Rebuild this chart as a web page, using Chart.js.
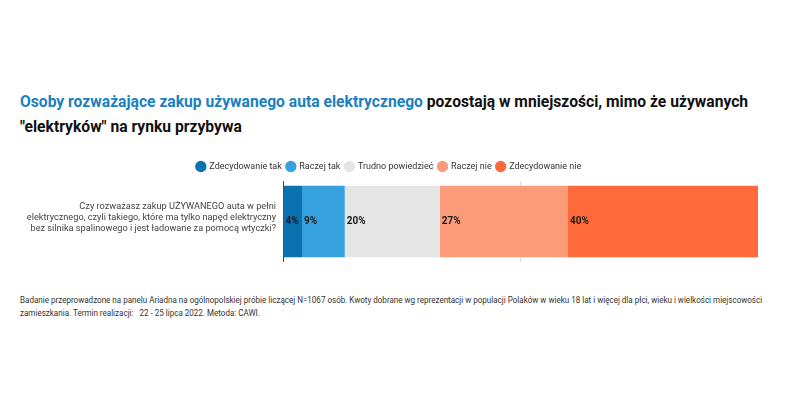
<!DOCTYPE html>
<html lang="pl">
<head>
<meta charset="utf-8">
<script src="https://cdn.jsdelivr.net/npm/chart.js@4.4.1/dist/chart.umd.min.js"></script>
<style>
  html, body { margin: 0; padding: 0; background: #fff; }
  body { width: 800px; height: 400px; position: relative; overflow: hidden; font-family: Roboto, "Liberation Sans", sans-serif; }
  .title { position: absolute; left: 20px; top: 89px; width: 880px; font-size: 17px; font-weight: 700; line-height: 25px; color: #111;
           transform: scaleX(0.92); transform-origin: left top; }
  .title .hl { color: #1b7fc0; }
  .chart-box { position: absolute; left: 0; top: 157px; width: 800px; height: 105px; }
  .note { position: absolute; left: 20px; top: 293px; width: 940px; font-size: 9.5px; line-height: 13px; color: #333;
          transform: scaleX(0.847); transform-origin: left top; }
</style>
</head>
<body>
<div class="title"><span class="hl">Osoby rozważające zakup używanego auta elektrycznego</span> pozostają w mniejszości, mimo że używanych<br>"elektryków" na rynku przybywa</div>
<div class="chart-box"><canvas id="c"></canvas></div>
<div class="note">Badanie przeprowadzone na panelu Ariadna na ogólnopolskiej próbie liczącej N=1067 osób. Kwoty dobrane wg reprezentacji w populacji Polaków w wieku 18 lat i więcej dla płci, wieku i wielkości miejscowości<br>zamieszkania. Termin realizacji:&nbsp;&nbsp; 22 - 25 lipca 2022. Metoda: CAWI.</div>
<script>
const categories = [[
  'Czy rozważasz zakup UŻYWANEGO auta w pełni',
  'elektrycznego, czyli takiego, które ma tylko napęd elektryczny',
  'bez silnika spalinowego i jest ładowane za pomocą wtyczki?'
]];
const seriesNames = ['Zdecydowanie tak', 'Raczej tak', 'Trudno powiedzieć', 'Raczej nie', 'Zdecydowanie nie'];
const seriesValues = [4, 9, 20, 27, 40];
const seriesColors = ['#0b72b0', '#35a2df', '#e5e5e5', '#fb9b79', '#ff6a3a'];

// labels drawn at the start of each segment
const segLabels = {
  id: 'segLabels',
  afterDatasetsDraw(chart) {
    const ctx = chart.ctx;
    ctx.save();
    ctx.font = 'bold 10px Roboto, sans-serif';
    ctx.fillStyle = '#1a1a1a';
    ctx.textAlign = 'left';
    ctx.textBaseline = 'middle';
    chart.data.datasets.forEach((ds, i) => {
      chart.getDatasetMeta(i).data.forEach((bar, j) => {
        ctx.fillText(ds.data[j] + '%', Math.min(bar.base, bar.x) + 2, bar.y);
      });
    });
    ctx.restore();
  }
};

new Chart(document.getElementById('c'), {
  type: 'bar',
  data: {
    labels: categories,
    datasets: seriesNames.map((name, i) => ({
      label: name,
      data: [seriesValues[i]],
      backgroundColor: seriesColors[i],
      borderWidth: 0,
      barPercentage: 0.884,
      categoryPercentage: 1,
    })),
  },
  options: {
    indexAxis: 'y',
    responsive: true,
    maintainAspectRatio: false,
    animation: false,
    layout: { padding: { left: 20, right: 42, top: 0, bottom: 0 } },
    plugins: {
      legend: {
        position: 'top',
        labels: {
          usePointStyle: true, pointStyle: 'circle', boxWidth: 8, boxHeight: 8,
          padding: 5, color: '#333', font: { family: 'Roboto', size: 9 },
        },
      },
      tooltip: { enabled: false },
    },
    scales: {
      x: {
        display: true, stacked: true, min: 0, max: 100,
        ticks: { display: false, stepSize: 50 },
        border: { display: false },
        grid: {
          drawTicks: false,
          color: c => c.tick && c.tick.value === 50 ? '#dddddd' : 'rgba(0,0,0,0)',
        },
        afterFit: s => { s.height = 0; },
      },
      y: {
        stacked: true,
        border: { display: true, color: '#444', width: 1 },
        grid: { display: false, drawTicks: false },
        ticks: { color: '#444', padding: 7, labelOffset: -4, font: { family: 'Roboto', size: 9.2 } },
        afterFit: s => { s.width = 263; s.paddingTop = 0; s.paddingBottom = 0; },
      },
    },
  },
  plugins: [segLabels],
});
</script>
</body>
</html>
